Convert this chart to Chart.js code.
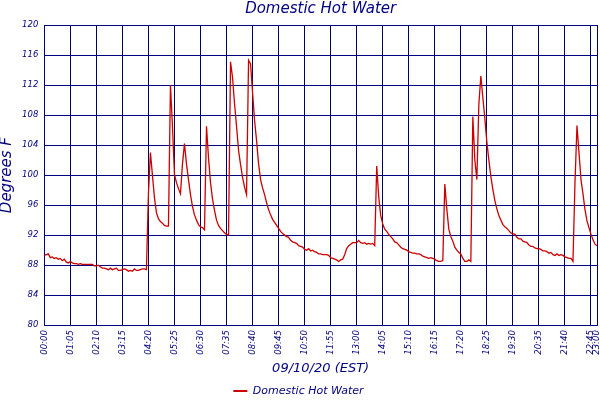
<!DOCTYPE html>
<html>
<head>
<meta charset="utf-8">
<script src="https://cdn.jsdelivr.net/npm/chart.js@4/dist/chart.umd.min.js"></script>
<style>
  html, body { margin: 0; padding: 0; background: #fff; }
  #wrap { width: 600px; height: 400px; }
</style>
</head>
<body>
<div id="wrap"><canvas id="hotWater" width="600" height="400"></canvas></div>
<script>
// 5-minute readings, 00:00 .. 23:00
const tempF = [
  89.3, 89.4, 89.5, 89.0, 89.1, 88.9, 89.0, 88.8, 88.9, 88.6,
  88.8, 88.4, 88.3, 88.5, 88.3, 88.2, 88.2, 88.1, 88.2, 88.1,
  88.1, 88.1, 88.1, 88.1, 88.1, 87.9, 87.9, 88.0, 87.8, 87.6,
  87.6, 87.5, 87.4, 87.6, 87.4, 87.5, 87.6, 87.3, 87.3, 87.4,
  87.5, 87.4, 87.2, 87.3, 87.2, 87.5, 87.3, 87.3, 87.4, 87.5,
  87.5, 87.4, 97.5, 103.0, 100.0, 97.0, 95.0, 94.2, 93.8, 93.6,
  93.3, 93.2, 93.2, 112.0, 106.5, 100.1, 99.0, 98.2, 97.5, 101.5,
  104.2, 101.5, 99.4, 97.4, 95.8, 94.7, 94.0, 93.4, 93.1, 93.0,
  92.7, 106.5, 102.3, 99.0, 96.8, 95.3, 94.0, 93.3, 92.9, 92.6,
  92.3, 92.1, 92.0, 115.1, 113.0, 109.5, 106.5, 103.3, 101.4, 99.7,
  98.4, 97.4, 115.3, 114.8, 111.0, 107.3, 104.6, 101.5, 99.4, 98.3,
  97.4, 96.3, 95.4, 94.7, 94.1, 93.7, 93.3, 92.9, 92.5, 92.2,
  92.0, 91.8, 91.7, 91.3, 91.1, 91.0, 90.9, 90.6, 90.5, 90.4,
  90.1, 90.0, 90.2, 89.9, 90.0, 89.8, 89.7, 89.5, 89.5, 89.4,
  89.4, 89.4, 89.3, 89.0, 88.9, 88.8, 88.7, 88.5, 88.7, 88.8,
  89.4, 90.2, 90.6, 90.8, 91.0, 91.0, 91.0, 91.3, 91.0, 90.9,
  91.0, 90.8, 90.9, 90.8, 90.9, 90.6, 101.2, 97.1, 94.6, 93.5,
  92.8, 92.5, 92.1, 91.8, 91.5, 91.1, 91.0, 90.7, 90.4, 90.2,
  90.1, 90.0, 89.8, 89.7, 89.6, 89.6, 89.5, 89.5, 89.4, 89.2,
  89.1, 89.0, 88.9, 89.0, 88.9, 88.8, 88.6, 88.5, 88.5, 88.6,
  98.8, 95.5, 92.8, 91.8, 91.2, 90.4, 90.0, 89.7, 89.5, 88.9,
  88.5, 88.5, 88.7, 88.5, 107.8, 102.0, 99.4, 109.4, 113.2, 110.3,
  107.5, 104.4, 102.0, 99.8, 98.1, 96.6, 95.5, 94.6, 94.0, 93.4,
  93.1, 92.9, 92.6, 92.3, 92.2, 92.1, 91.7, 91.5, 91.5, 91.2,
  91.1, 91.0, 90.7, 90.5, 90.5, 90.3, 90.2, 90.2, 90.1, 89.9,
  89.9, 89.8, 89.6, 89.7, 89.4, 89.3, 89.5, 89.3, 89.4, 89.3,
  89.1, 89.0, 88.9, 88.9, 88.5, 98.9, 106.6, 103.0, 99.4, 97.5,
  95.4, 93.9, 93.0, 92.1, 91.4, 90.8, 90.6
];

const tickLabels = ['00:00', '01:05', '02:10', '03:15', '04:20', '05:25', '06:30', '07:35',
  '08:40', '09:45', '10:50', '11:55', '13:00', '14:05', '15:10', '16:15', '17:20', '18:25',
  '19:30', '20:35', '21:40', '22:45', '23:00'];

const yTicks = [80, 84, 88, 92, 96, 100, 104, 108, 112, 116, 120];

// one category per reading
const times = tempF.map((v, i) => {
  const m = i * 5;
  return String(Math.floor(m / 60)).padStart(2, '0') + ':' + String(m % 60).padStart(2, '0');
});

const navy = '#000080';
const tickFont = { family: 'DejaVu Sans', size: 8.5, style: 'italic' };

new Chart(document.getElementById('hotWater').getContext('2d'), {
  type: 'line',
  data: {
    labels: times,
    datasets: [{
      label: 'Domestic Hot Water',
      data: tempF,
      borderColor: '#cc0000',
      backgroundColor: '#cc0000',
      borderWidth: 1.3,
      pointRadius: 0,
      tension: 0
    }]
  },
  options: {
    responsive: false,
    animation: false,
    layout: { padding: { left: 0, right: 3, top: 0, bottom: -6.6 } },
    plugins: {
      title: {
        display: true,
        fullSize: false,
        text: 'Domestic Hot Water',
        color: navy,
        font: { family: 'DejaVu Sans', size: 15, style: 'italic', weight: 'normal', lineHeight: 1.2 },
        padding: { top: 0, bottom: 7 }
      },
      legend: {
        position: 'bottom',
        labels: {
          color: navy,
          font: { family: 'DejaVu Sans', size: 11, style: 'italic' },
          usePointStyle: true,
          pointStyleWidth: 14,
          padding: 4,
          generateLabels: chart => Chart.defaults.plugins.legend.labels.generateLabels(chart)
            .map(l => Object.assign(l, { pointStyle: 'line', lineWidth: 2, strokeStyle: '#cc0000' }))
        }
      },
      tooltip: { enabled: false }
    },
    scales: {
      x: {
        type: 'category',
        offset: false,
        grid: {
          drawTicks: false,
          color: ctx => tickLabels.includes(times[ctx.index]) ? '#000060' : 'rgba(0,0,0,0)',
          lineWidth: 1
        },
        border: { color: navy, width: 1 },
        ticks: {
          autoSkip: false,
          minRotation: 90,
          maxRotation: 90,
          padding: 5,
          color: navy,
          font: tickFont,
          callback: (val, idx) => tickLabels.includes(times[idx]) ? times[idx] : ''
        },
        title: {
          display: true,
          text: '09/10/20 (EST)',
          color: navy,
          font: { family: 'DejaVu Sans', size: 13, style: 'italic', lineHeight: 1.2 },
          padding: { top: 0, bottom: 5.1 }
        },
        afterFit: scale => {
          scale.height = 56.4;
          scale.paddingLeft = 0;
          scale.paddingRight = 0;
        }
      },
      y: {
        min: 80,
        max: 120,
        afterBuildTicks: scale => { scale.ticks = yTicks.map(v => ({ value: v })); },
        grid: { drawTicks: false, color: navy, lineWidth: 1 },
        border: { color: navy, width: 1 },
        ticks: { padding: 6, color: navy, font: tickFont },
        title: {
          display: true,
          text: 'Degrees F',
          color: navy,
          font: { family: 'DejaVu Sans', size: 15, style: 'italic', lineHeight: 1 },
          padding: 0
        },
        afterFit: scale => { scale.width = 44.3; }
      }
    }
  }
});
</script>
</body>
</html>
